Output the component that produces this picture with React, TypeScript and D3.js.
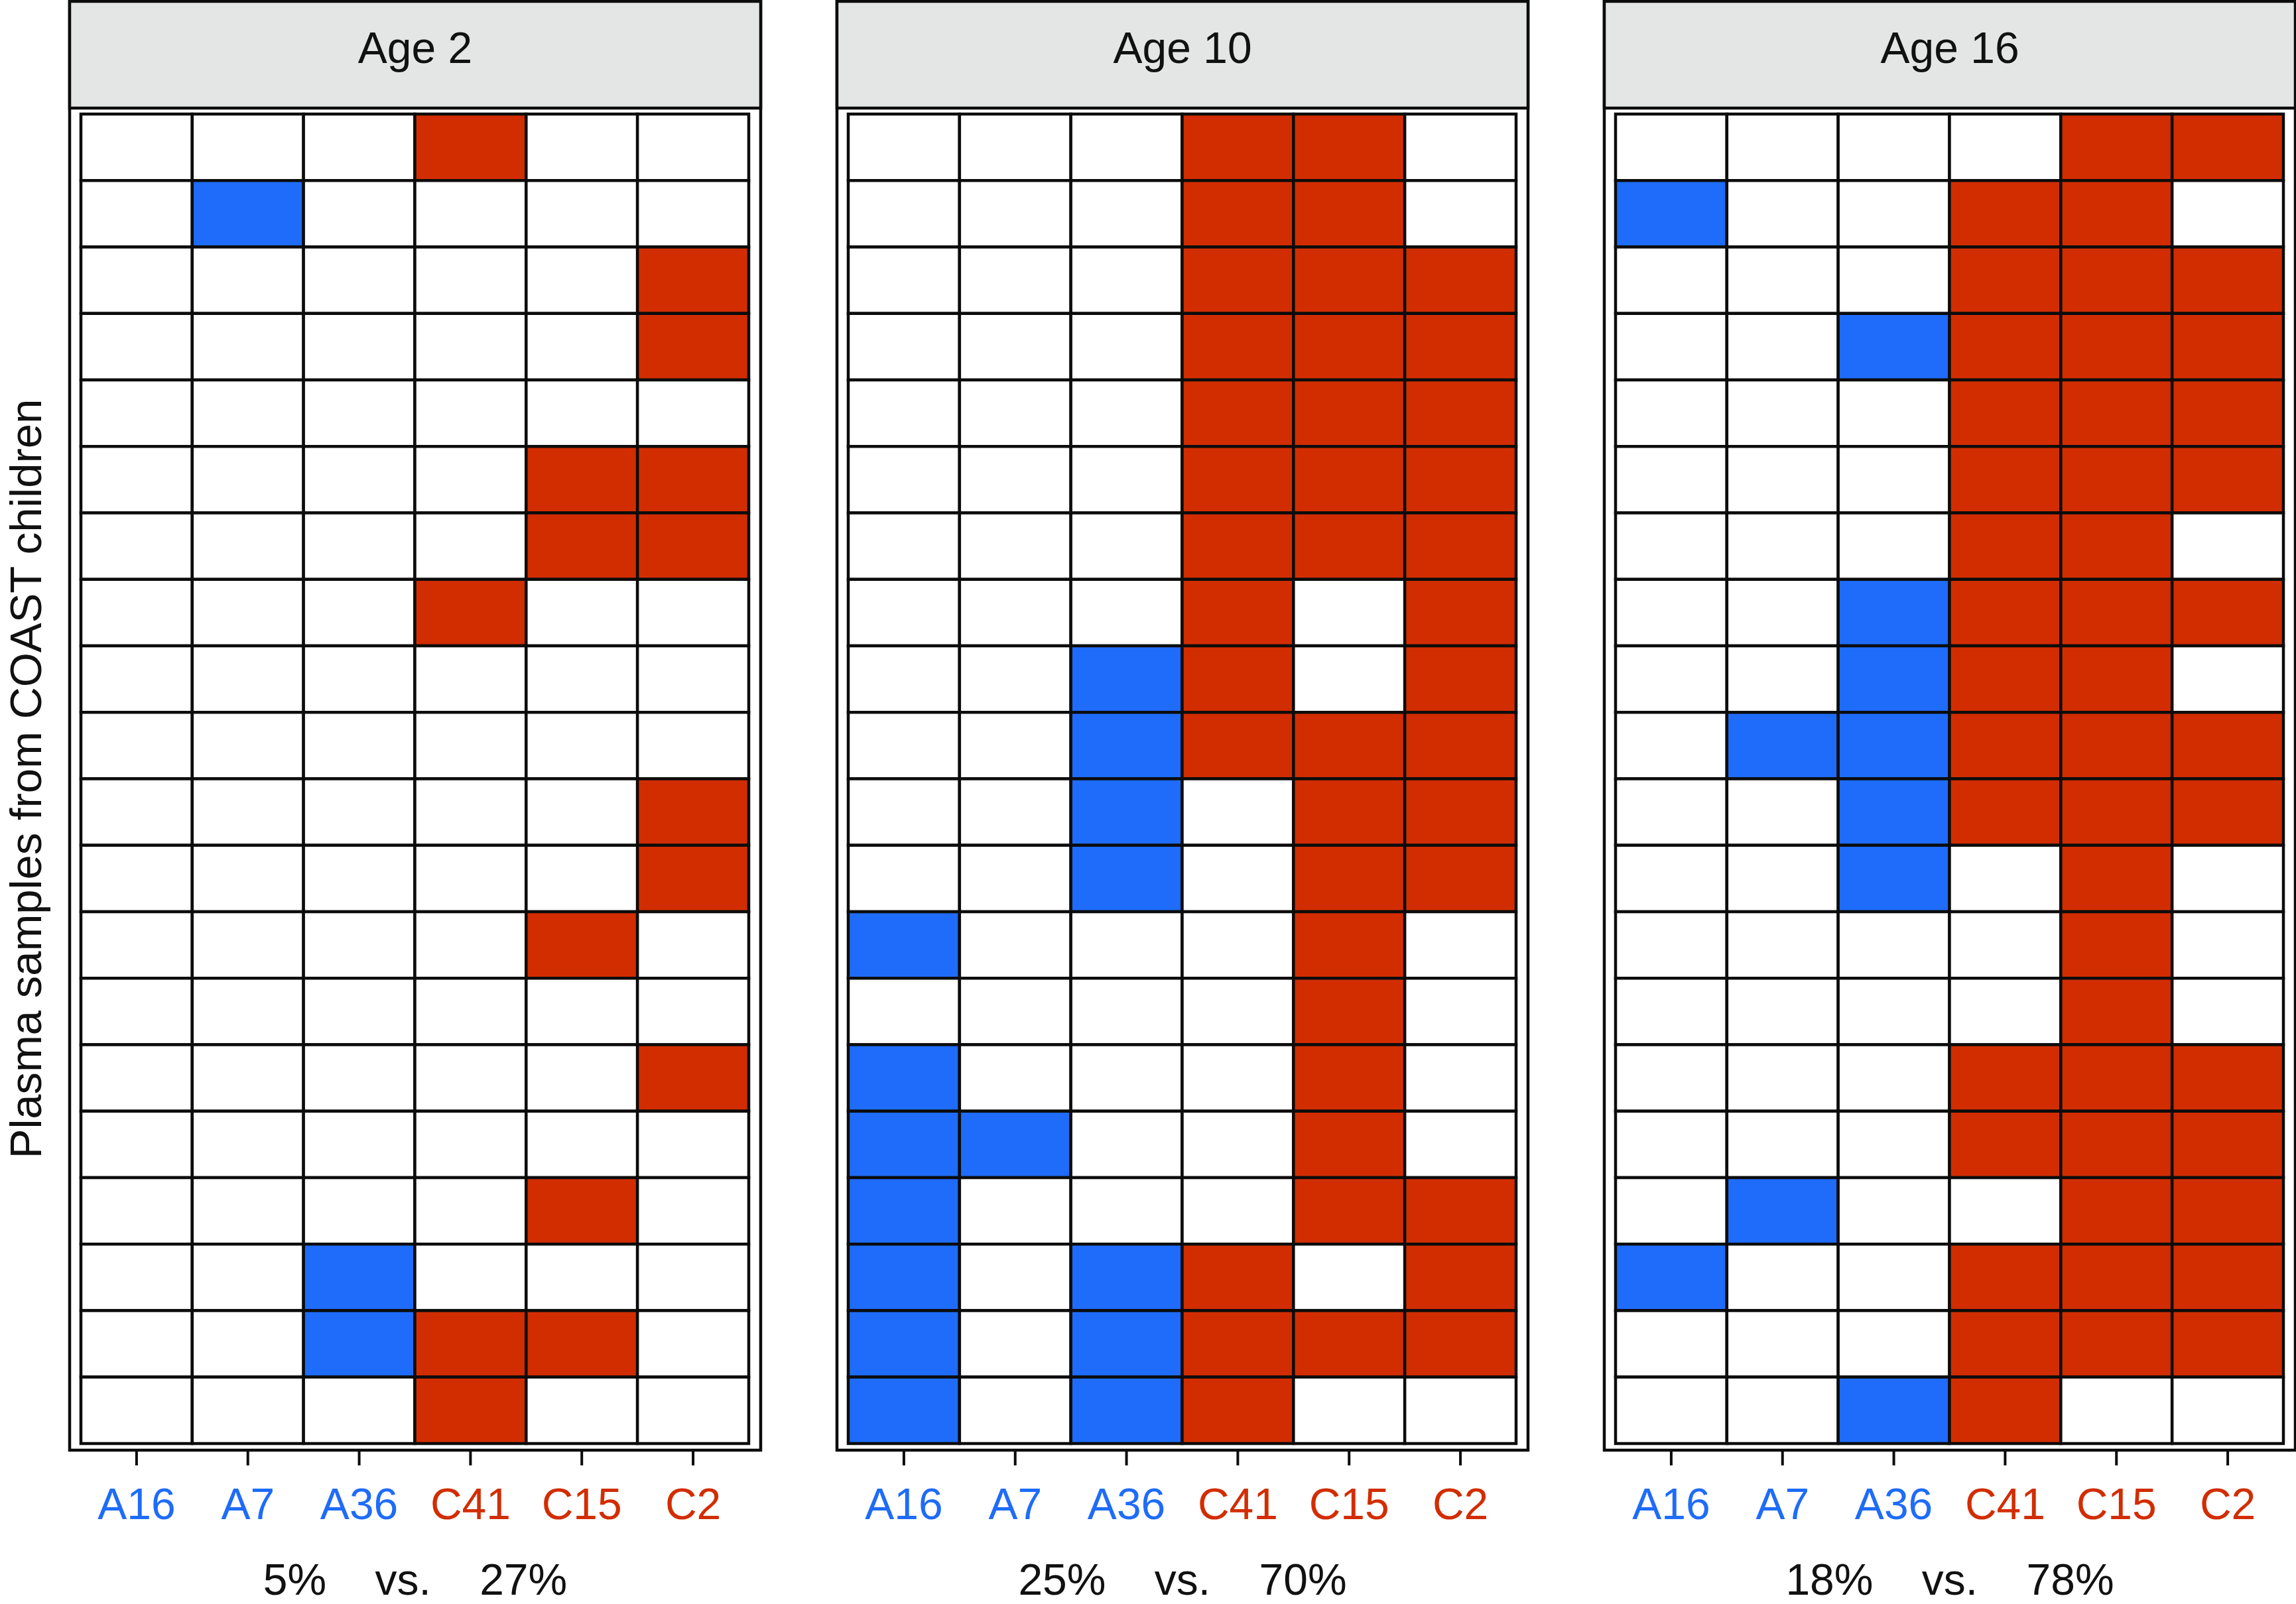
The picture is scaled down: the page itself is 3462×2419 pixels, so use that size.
import React from "react";
import * as d3 from "d3";

const panels = ["Age 2", "Age 10", "Age 16"];
const antigens = ["A16", "A7", "A36", "C41", "C15", "C2"];
const antigenGroup = ["A", "A", "A", "C", "C", "C"];

// one string per plasma sample (row), 1 = positive for that antigen (column)
const age2 = [
  "000100", "010000", "000001", "000001", "000000",
  "000011", "000011", "000100", "000000", "000000",
  "000001", "000001", "000010", "000000", "000001",
  "000000", "000010", "001000", "001110", "000100",
];
const age10 = [
  "000110", "000110", "000111", "000111", "000111",
  "000111", "000111", "000101", "001101", "001111",
  "001011", "001011", "100010", "000010", "100010",
  "110010", "100011", "101101", "101111", "101100",
];
const age16 = [
  "000011", "100110", "000111", "001111", "000111",
  "000111", "000110", "001111", "001110", "011111",
  "001111", "001010", "000010", "000010", "000111",
  "000111", "010011", "100111", "000111", "001100",
];
const panelData = [age2, age10, age16];

const bluePct = ["5%", "25%", "18%"];
const redPct = ["27%", "70%", "78%"];

const yLabel = "Plasma samples from COAST children";

const W = 3462;
const H = 2419;
const font = "'Liberation Sans', Arial, Helvetica, sans-serif";
const BLUE = "#1e6cf9";
const RED = "#d22d00";
const GRAY = "#e3e6e5";
const INK = "#0c0c0c";

const panelX = d3.scaleBand().domain(panels).range([105, 3461]).paddingInner(0.0994);
const headerTop = 2;
const headerBottom = 163;
const gridTop = 172;
const gridBottom = 2177;
const boxBottom = 2187;

function Panel({ name, rows, idx }: { name: string; rows: string[]; idx: number }) {
  const x0 = panelX(name)!;
  const pw = panelX.bandwidth();
  const x = d3.scaleBand().domain(antigens).range([x0 + 17, x0 + pw - 18]);
  const y = d3.scaleBand().domain(d3.range(rows.length).map(String)).range([gridTop, gridBottom]);
  const fillFor = (r: string, j: number) =>
    r[j] === "1" ? (antigenGroup[j] === "A" ? BLUE : RED) : "#ffffff";
  const cx = x0 + pw / 2;
  return (
    <g>
      <rect x={x0} y={headerTop} width={pw} height={boxBottom - headerTop} fill="#fff" stroke={INK} strokeWidth={4.5} />
      <rect x={x0} y={headerTop} width={pw} height={headerBottom - headerTop} fill={GRAY} stroke={INK} strokeWidth={4.5} />
      <text x={cx} y={95} textAnchor="middle" fontFamily={font} fontSize={66} fill="#111">
        {name}
      </text>
      {rows.map((r, i) =>
        antigens.map((a, j) => (
          <rect
            key={`${i}-${a}`}
            x={x(a)}
            y={y(String(i))}
            width={x.bandwidth()}
            height={y.bandwidth()}
            fill={fillFor(r, j)}
            stroke={INK}
            strokeWidth={4.5}
          />
        ))
      )}
      {antigens.map((a, j) => {
        const tx = x(a)! + x.bandwidth() / 2;
        return (
          <g key={a}>
            <line x1={tx} x2={tx} y1={boxBottom} y2={2210} stroke={INK} strokeWidth={4} />
            <text
              x={tx}
              y={2291}
              textAnchor="middle"
              fontFamily={font}
              fontSize={66}
              fill={antigenGroup[j] === "A" ? BLUE : RED}
            >
              {a}
            </text>
          </g>
        );
      })}
      <text
        x={cx}
        y={2405}
        textAnchor="middle"
        fontFamily={font}
        fontSize={66}
        fill="#111"
        style={{ whiteSpace: "pre" }}
      >
        {`${bluePct[idx]}    vs.    ${redPct[idx]}`}
      </text>
    </g>
  );
}

export default function App() {
  return (
    <svg
      width={W}
      height={H}
      viewBox={`0 0 ${W} ${H}`}
      style={{ position: "absolute", left: 0, top: 0, display: "block", background: "#fff" }}
    >
      <rect x={0} y={0} width={W} height={H} fill="#fff" />
      {panels.map((p, i) => (
        <Panel key={p} name={p} rows={panelData[i]} idx={i} />
      ))}
      <text
        transform={`translate(62,${(gridTop + gridBottom) / 2}) rotate(-90)`}
        textAnchor="middle"
        fontFamily={font}
        fontSize={67}
        fill="#111"
      >
        {yLabel}
      </text>
    </svg>
  );
}
